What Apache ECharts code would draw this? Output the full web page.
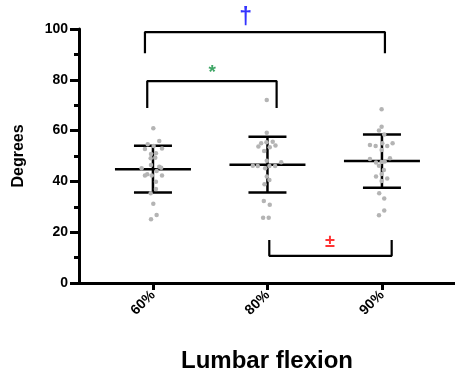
<!DOCTYPE html>
<html>
<head>
<meta charset="utf-8">
<script src="https://cdn.jsdelivr.net/npm/echarts@6/dist/echarts.min.js"></script>
<style>
  html, body { margin: 0; padding: 0; background: #fff; }
  #chart { width: 455px; height: 376px; }
</style>
</head>
<body>
<div id="chart"></div>
<script>
// Groups along the x axis
const categories = ['60%', '80%', '90%'];
const categoryPos = [1, 2, 3];

// Individual measurements per group: [horizontal jitter (category units), degrees]
const points60 = [
  [0.003, 60.9], [0.055, 55.9], [-0.046, 54.6], [0.006, 53.9], [-0.070, 52.8],
  [0.079, 53.0], [-0.017, 50.8], [0.026, 51.1], [-0.020, 49.1], [0.020, 49.3],
  [-0.017, 46.5], [0.055, 45.8], [0.072, 45.4], [-0.099, 45.2], [0.032, 44.1],
  [-0.050, 42.8], [-0.070, 42.3], [-0.011, 42.3], [0.079, 42.3], [0.026, 39.9],
  [0.026, 37.0], [-0.020, 35.3], [0.003, 31.2], [0.032, 26.8], [-0.017, 25.1]
];
const points80 = [
  [-0.006, 72.0], [-0.006, 59.2], [-0.055, 55.0], [-0.009, 55.4], [0.046, 55.6],
  [-0.079, 53.7], [0.020, 53.4], [0.070, 54.1], [-0.029, 52.0], [-0.006, 48.1],
  [0.120, 47.5], [-0.128, 46.2], [-0.085, 46.1], [-0.020, 45.2], [0.017, 46.1],
  [0.067, 46.1], [-0.006, 41.9], [0.017, 40.6], [-0.026, 38.9], [-0.032, 32.3],
  [0.020, 30.8], [-0.038, 25.7], [0.011, 25.7]
];
const points90 = [
  [-0.003, 68.4], [-0.003, 61.5], [-0.026, 60.0], [0.020, 58.5], [-0.105, 54.3],
  [-0.055, 53.9], [0.003, 55.0], [0.046, 53.9], [0.093, 55.0], [-0.003, 52.4],
  [-0.105, 48.8], [0.070, 49.1], [-0.052, 47.4], [-0.003, 47.6], [0.024, 47.8],
  [-0.026, 46.2], [0.017, 44.5], [-0.003, 42.9], [-0.052, 41.9], [0.046, 41.1],
  [-0.003, 40.2], [-0.024, 35.3], [0.020, 33.3], [0.020, 28.5], [-0.026, 26.7]
];
const groupPoints = [points60, points80, points90];

// Mean and standard deviation per group
const means = [44.8, 46.6, 48.0];
const sds = [9.2, 11.0, 10.5];

// Significance brackets: [x start, x end, bar level, leg end]
const bracketAll = [[0.93, 3.026, 98.8, 90.5]];
const bracket6080 = [[0.95, 2.08, 79.5, 68.9]];
const bracket8090 = [[2.016, 3.085, 10.7, 16.9]];
// Significance marks: [x, y, symbol]
const marks = [[1.81, 104.6, '\u2020'], [1.518, 82.6, '*'], [2.546, 16.2, '\u00b1']];
const markColors = ['#0000ff', '#0f9040', '#ff0000'];
const markSizes = [23, 19, 18];

const yTicks = { min: 0, max: 100, interval: 20 };

function bracketLine(b) {
  const [x1, x2, level, leg] = b[0];
  return [[x1, leg], [x1, level], [x2, level], [x2, leg]];
}

const scatterData = [];
groupPoints.forEach((g, i) => {
  g.forEach(p => scatterData.push([categoryPos[i] + p[0], p[1]]));
});

const errorData = means.map((m, i) => [categoryPos[i], m, sds[i]]);

const FONT = 'Liberation Sans, Arial, sans-serif';

const chart = echarts.init(document.getElementById('chart'));
chart.setOption({
  animation: false,
  grid: { left: 79, right: 0, top: 29, bottom: 93, outerBoundsMode: 'none', containLabel: false },
  xAxis: {
    type: 'value',
    min: 0.354,
    max: 3.638,
    name: 'Lumbar flexion',
    nameLocation: 'middle',
    nameGap: 66,
    nameTextStyle: { fontFamily: FONT, fontWeight: 'bold', fontSize: 24, color: '#000' },
    axisLine: { show: true, lineStyle: { color: '#000', width: 3 } },
    axisTick: { show: true, customValues: categoryPos, length: 7, lineStyle: { color: '#000', width: 3 } },
    axisLabel: {
      customValues: categoryPos,
      rotate: 45,
      margin: 10,
      fontFamily: FONT, fontWeight: 'bold', fontSize: 14, color: '#000',
      formatter: v => categories[Math.round(v) - 1]
    },
    splitLine: { show: false }
  },
  yAxis: {
    type: 'value',
    min: yTicks.min,
    max: yTicks.max,
    interval: yTicks.interval,
    name: 'Degrees',
    nameLocation: 'middle',
    nameGap: 52,
    nameTextStyle: { fontFamily: FONT, fontWeight: 'bold', fontSize: 16, color: '#000' },
    axisLine: { show: true, lineStyle: { color: '#000', width: 3 } },
    axisTick: { show: true, length: 9, lineStyle: { color: '#000', width: 3 } },
    minorTick: { show: true, splitNumber: 2, length: 5, lineStyle: { color: '#000', width: 3 } },
    axisLabel: { margin: 11, fontFamily: FONT, fontWeight: 'bold', fontSize: 14, color: '#000' },
    splitLine: { show: false },
    minorSplitLine: { show: false }
  },
  series: [
    {
      type: 'custom',
      name: 'mean ± SD',
      data: errorData,
      z: 2,
      renderItem: function (params, api) {
        const x = api.value(0), m = api.value(1), s = api.value(2);
        const c = api.coord([x, m]);
        const top = api.coord([x, m + s]);
        const bot = api.coord([x, m - s]);
        const meanHalf = 38, capHalf = 19;
        const style = { stroke: '#000', lineWidth: 2.5 };
        return {
          type: 'group',
          children: [
            { type: 'line', shape: { x1: c[0] - meanHalf, y1: c[1], x2: c[0] + meanHalf, y2: c[1] }, style },
            { type: 'line', shape: { x1: top[0], y1: top[1], x2: bot[0], y2: bot[1] }, style },
            { type: 'line', shape: { x1: top[0] - capHalf, y1: top[1], x2: top[0] + capHalf, y2: top[1] }, style },
            { type: 'line', shape: { x1: bot[0] - capHalf, y1: bot[1], x2: bot[0] + capHalf, y2: bot[1] }, style }
          ]
        };
      }
    },
    {
      type: 'scatter',
      name: 'subjects',
      data: scatterData,
      symbolSize: 4.5,
      z: 3,
      itemStyle: { color: '#b4b4b4', opacity: 1 }
    },
    ...[bracketAll, bracket6080, bracket8090].map(b => ({
      type: 'line',
      data: bracketLine(b),
      symbol: 'none',
      clip: false,
      z: 4,
      lineStyle: { color: '#000', width: 2.2 }
    })),
    {
      type: 'scatter',
      name: 'significance',
      data: marks.map((d, i) => ({
        value: [d[0], d[1]],
        label: { color: markColors[i], fontSize: markSizes[i] }
      })),
      symbolSize: 1,
      itemStyle: { color: 'rgba(0,0,0,0)' },
      clip: false,
      z: 5,
      label: {
        show: true,
        position: 'inside',
        fontFamily: FONT,
        fontWeight: 'bold',
        formatter: p => marks[p.dataIndex][2]
      }
    }
  ]
});
</script>
</body>
</html>
